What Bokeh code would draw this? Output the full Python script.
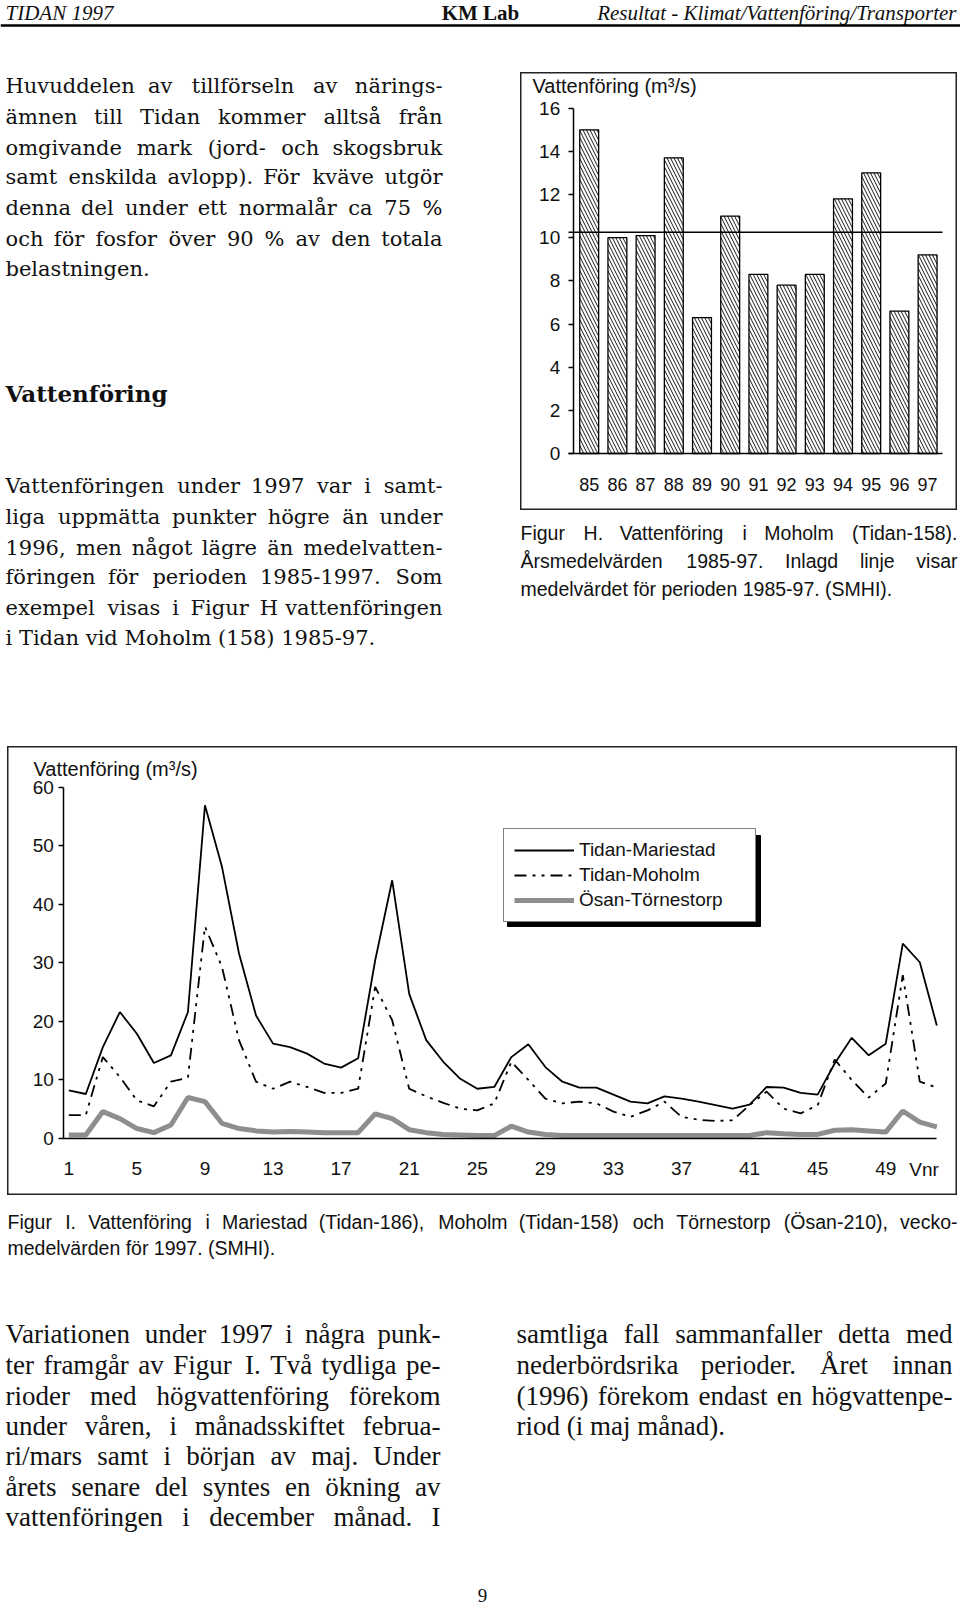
from bokeh.plotting import figure
from bokeh.models import Range1d, FixedTicker, Label, Spacer, Span
from bokeh.layouts import column, row
from bokeh.core.properties import value
from bokeh.embed import file_html
from bokeh.resources import INLINE

# ---------------- data ----------------
years = [85, 86, 87, 88, 89, 90, 91, 92, 93, 94, 95, 96, 97]
annual_flow = [15.0, 10.0, 10.1, 13.7, 6.3, 11.0, 8.3, 7.8, 8.3, 11.8, 13.0, 6.6, 9.2]
period_mean = 10.25
bar_yticks = [0, 2, 4, 6, 8, 10, 12, 14, 16]

weeks = list(range(1, 53))
week_ticks = [1, 5, 9, 13, 17, 21, 25, 29, 33, 37, 41, 45, 49]
line_yticks = [0, 10, 20, 30, 40, 50, 60]
mariestad = [8.2, 7.6, 15.6, 21.6, 17.9, 12.9, 14.2, 21.6, 56.9, 46.4, 31.6, 21.0, 16.2,
             15.6, 14.5, 12.8, 12.1, 13.7, 30.4, 44.1, 24.7, 16.8, 13.1, 10.2, 8.5, 8.8,
             13.9, 16.1, 12.2, 9.7, 8.7, 8.7, 7.5, 6.3, 6.0, 7.2, 6.8, 6.3, 5.7, 5.1,
             5.8, 8.8, 8.7, 7.8, 7.5, 12.8, 17.2, 14.2, 16.2, 33.3, 30.1, 19.3]
moholm = [4.0, 4.0, 13.9, 10.5, 6.5, 5.5, 9.7, 10.4, 36.2, 29.3, 16.8, 9.7, 8.5,
          9.7, 8.8, 7.8, 7.8, 8.5, 25.9, 20.2, 8.5, 7.2, 6.1, 5.1, 4.8, 6.0,
          13.1, 10.0, 6.8, 6.0, 6.3, 6.0, 4.6, 3.7, 4.8, 6.3, 3.7, 3.2, 3.0, 3.1,
          5.7, 8.0, 5.1, 4.3, 5.7, 13.5, 10.0, 7.0, 9.4, 27.9, 9.7, 8.7]
tornestorp = [0.6, 0.6, 4.6, 3.4, 1.7, 1.0, 2.3, 7.0, 6.3, 2.6, 1.7, 1.3, 1.1,
              1.2, 1.1, 1.0, 1.0, 1.0, 4.2, 3.4, 1.5, 1.0, 0.7, 0.6, 0.5, 0.5,
              2.1, 1.1, 0.7, 0.5, 0.5, 0.5, 0.5, 0.5, 0.5, 0.5, 0.5, 0.5, 0.5, 0.5,
              0.5, 1.0, 0.8, 0.7, 0.7, 1.4, 1.5, 1.3, 1.1, 4.7, 2.8, 2.0]
series_names = ["Tidan-Mariestad", "Tidan-Moholm", "Ösan-Törnestorp"]
axis_title = "Vattenföring (m³/s)"
week_axis_label = "Vnr"

# ---------------- page texts ----------------
header_left = "TIDAN 1997"
header_mid = "KM Lab"
header_right = "Resultat - Klimat/Vattenföring/Transporter"
para1 = ["Huvuddelen av tillförseln av närings-",
         "ämnen till Tidan kommer alltså från",
         "omgivande mark (jord- och skogsbruk",
         "samt enskilda avlopp). För kväve utgör",
         "denna del under ett normalår ca 75 %",
         "och för fosfor över 90 % av den totala",
         "belastningen."]
heading = "Vattenföring"
para2 = ["Vattenföringen under 1997 var i samt-",
         "liga uppmätta punkter högre än under",
         "1996, men något lägre än medelvatten-",
         "föringen för perioden 1985-1997. Som",
         "exempel visas i Figur H vattenföringen",
         "i Tidan vid Moholm (158) 1985-97."]
caption_h = ["Figur H. Vattenföring i Moholm (Tidan-158).",
             "Årsmedelvärden 1985-97. Inlagd linje visar",
             "medelvärdet för perioden 1985-97. (SMHI)."]
caption_i = ["Figur I. Vattenföring i Mariestad (Tidan-186), Moholm (Tidan-158) och Törnestorp (Ösan-210), vecko-",
             "medelvärden för 1997. (SMHI)."]
bottom_left = ["Variationen under 1997 i några punk-",
               "ter framgår av Figur I. Två tydliga pe-",
               "rioder med högvattenföring förekom",
               "under våren, i månadsskiftet februa-",
               "ri/mars samt i början av maj. Under",
               "årets senare del syntes en ökning av",
               "vattenföringen i december månad. I"]
bottom_right = ["samtliga fall sammanfaller detta med",
                "nederbördsrika perioder. Året innan",
                "(1996) förekom endast en högvattenpe-",
                "riod (i maj månad)."]
page_number = "9"

SANS = "Liberation Sans"
SERIF_WIDE = "DejaVu Serif"
SERIF = "Liberation Serif"
INK = "#111111"


# ---------------- text helpers ----------------
def cw(c, fam):
    if fam == "sans":
        if c in "ijl'|": return 0.222
        if c in " .,:;!/tfI": return 0.278
        if c in "r()-[]": return 0.333
        if c == "m": return 0.833
        if c == "w": return 0.722
        if c in "MÖOQGÅÄ": return 0.778
        if c == "W": return 0.944
        if c in "sckvxyzJ": return 0.5
        if c.isdigit(): return 0.556
        if c == "%": return 0.889
        if c.isupper(): return 0.667
        return 0.556
    if fam == "dejavu":
        if c in "il.,:;j'": return 0.32
        if c == " ": return 0.318
        if c == "t": return 0.40
        if c == "f": return 0.37
        if c == "r": return 0.478
        if c in "()": return 0.39
        if c == "-": return 0.338
        if c == "m": return 0.948
        if c == "w": return 0.856
        if c == "s": return 0.513
        if c in "vy": return 0.565
        if c in "kx": return 0.6
        if c == "c": return 0.56
        if c == "I": return 0.4
        if c == "M": return 0.87
        if c == "W": return 1.0
        if c.isdigit(): return 0.636
        if c == "%": return 0.95
        if c.isupper(): return 0.73
        return 0.61
    if c in " .,": return 0.25
    if c in "ijlt:;'/": return 0.278
    if c in "fr()-I": return 0.333
    if c == "m": return 0.778
    if c == "w": return 0.722
    if c == "s": return 0.389
    if c in "aecåäz": return 0.444
    if c.isdigit(): return 0.5
    if c == "T": return 0.611
    if c in "MÅ": return 0.8
    if c.isupper(): return 0.7
    return 0.5


def place(lines, ys, x0, x1, fam, size, justify_last=False):
    L = {"x": [], "y": [], "t": []}
    R = {"x": [], "y": [], "t": []}
    for i, (line, y) in enumerate(zip(lines, ys)):
        words = line.split(" ")
        last = (i == len(lines) - 1) and not justify_last
        if last or len(words) == 1:
            L["x"].append(x0); L["y"].append(y); L["t"].append(line)
            continue
        widths = [sum(cw(c, fam) for c in w) * size for w in words]
        gap = (x1 - x0 - sum(widths)) / (len(words) - 1)
        gap = max(gap, cw(" ", fam) * size)
        x = x0
        for w, wd in zip(words[:-1], widths[:-1]):
            L["x"].append(x); L["y"].append(y); L["t"].append(w)
            x += wd + gap
        R["x"].append(x1); R["y"].append(y); R["t"].append(words[-1])
    return L, R


def draw_text(p, parts, font, size, style="normal"):
    L, R = parts
    for data, align in ((L, "left"), (R, "right")):
        if data["t"]:
            p.text(x=data["x"], y=data["y"], text=data["t"],
                   text_font=value(font), text_font_size=value(f"{size}px"),
                   text_font_style=style, text_align=align,
                   text_baseline="middle", text_color=INK)


def text_fig(w, h):
    p = figure(width=w, height=h, x_range=Range1d(0, w), y_range=Range1d(h, 0),
               x_axis_type=None, y_axis_type=None, toolbar_location=None,
               output_backend="svg", min_border=0, title=None)
    p.outline_line_color = None
    p.background_fill_color = "white"
    p.border_fill_color = "white"
    return p


# ---------------- header (page y 0-60) ----------------
header = text_fig(960, 60)
for txt, x, align, style in ((header_left, 5, "left", "italic"),
                             (header_mid, 480, "center", "bold"),
                             (header_right, 956, "right", "italic")):
    header.text(x=[x], y=[0], text=[txt], text_font=value(SERIF),
                text_font_size=value("21px"), text_font_style=style, text_align=align,
                text_baseline="top", text_color=INK)
header.add_layout(Span(location=25, dimension="width", line_color="black", line_width=2.5))

# ---------------- left text column (page y 60-746) ----------------
left = text_fig(520, 686)
draw_text(left, place(para1, [25, 56, 87, 116, 147, 178, 208], 5, 442, "dejavu", 21),
          SERIF_WIDE, 21)
left.text(x=[5], y=[333], text=[heading], text_font=value(SERIF_WIDE),
          text_font_size=value("23px"), text_font_style="bold", text_align="left",
          text_baseline="middle", text_color=INK)
draw_text(left, place(para2, [425, 456, 487, 516, 547, 577], 5, 442, "dejavu", 21),
          SERIF_WIDE, 21)

# ---------------- bar chart (Figur H), box at page x 520-957, y 72-510 ----------------
BAR_W, BAR_H = 437, 438
BAR_PX_X = 28.2
BAR_PX_Y = (381 - 35.7) / 16
bar_x_start = years[0] - 68.7 / BAR_PX_X
bar_y_top = 381 / BAR_PX_Y


def bfx(px):
    return bar_x_start + px / BAR_PX_X


def bfy(py):
    return bar_y_top - py / BAR_PX_Y


bar = figure(width=BAR_W, height=BAR_H,
             x_range=Range1d(bar_x_start, bar_x_start + BAR_W / BAR_PX_X),
             y_range=Range1d(bar_y_top - BAR_H / BAR_PX_Y, bar_y_top),
             toolbar_location=None, output_backend="svg", min_border=0, title=None)
bar.xgrid.visible = False
bar.ygrid.visible = False
bar.outline_line_color = "#222222"
bar.outline_line_width = 2
bar.background_fill_color = "white"
bar.border_fill_color = "white"

bar.vbar(x=years, top=annual_flow, bottom=0, width=0.67, fill_color="white",
         line_color="black", line_width=1.3, hatch_pattern="\\", hatch_color="black",
         hatch_scale=7, hatch_weight=0.9)
bar.line(x=[bfx(48), bfx(422)], y=[period_mean, period_mean], line_color="black",
         line_width=1.5)

xa = bar.xaxis[0]
xa.fixed_location = 0
xa.bounds = (bfx(48), bfx(422))
xa.ticker = FixedTicker(ticks=years)
xa.major_tick_out = 0
xa.major_tick_in = 0
xa.minor_tick_out = 0
xa.minor_tick_in = 0
xa.major_label_standoff = 24
xa.major_label_text_font = SANS
xa.major_label_text_font_size = "18px"
xa.major_label_text_color = INK
xa.axis_line_width = 1.5
xa.axis_line_color = "black"

ya = bar.yaxis[0]
ya.fixed_location = bfx(52.7)
ya.bounds = (0, 16)
ya.ticker = FixedTicker(ticks=bar_yticks)
ya.major_tick_out = 5
ya.major_tick_in = 0
ya.minor_tick_out = 0
ya.minor_tick_in = 0
ya.major_tick_line_width = 1.5
ya.major_label_standoff = 8
ya.major_label_text_font = SANS
ya.major_label_text_font_size = "19px"
ya.major_label_text_color = INK
ya.axis_line_width = 1.5
ya.axis_line_color = "black"

bar.add_layout(Label(x=bfx(12), y=bfy(13), text=axis_title, text_font=SANS,
                     text_font_size="20px", text_align="left", text_baseline="middle",
                     text_color=INK))

cap_h = text_fig(440, 236)
draw_text(cap_h, place(caption_h, [22, 50, 78], 0, 437, "sans", 19.5), SANS, 19.5)

right_col = column(Spacer(width=440, height=12), bar, cap_h)
top_row = row(left, right_col)

# ---------------- line chart (Figur I), box at page x 7-957, y 746-1195 ----------------
LINE_W, LINE_H = 950, 449
LPX_X = 17.02
LPX_Y = (392 - 40.7) / 60
line_x_start = weeks[0] - 61.3 / LPX_X
line_y_top = 392 / LPX_Y


def lfx(px):
    return line_x_start + px / LPX_X


def lfy(py):
    return line_y_top - py / LPX_Y


lc = figure(width=LINE_W, height=LINE_H,
            x_range=Range1d(line_x_start, line_x_start + LINE_W / LPX_X),
            y_range=Range1d(line_y_top - LINE_H / LPX_Y, line_y_top),
            toolbar_location=None, output_backend="svg", min_border=0, title=None)
lc.xgrid.visible = False
lc.ygrid.visible = False
lc.outline_line_color = "#222222"
lc.outline_line_width = 2
lc.background_fill_color = "white"
lc.border_fill_color = "white"

# legend shadow (drawn under the legend box)
LEG_X, LEG_BOTTOM, LEG_W, LEG_H = 496, 176, 253, 91
lc.quad(left=[lfx(LEG_X + 4)], right=[lfx(LEG_X + LEG_W + 4)],
        top=[lfy(LEG_BOTTOM - LEG_H + 4)], bottom=[lfy(LEG_BOTTOM + 4)],
        fill_color="black", line_color="black")

lc.line(x=weeks, y=mariestad, line_color="black", line_width=1.8,
        legend_label=series_names[0])
lc.line(x=weeks, y=moholm, line_color="black", line_width=1.8, line_dash="12 6 3 6 3 6",
        legend_label=series_names[1])
lc.line(x=weeks, y=tornestorp, line_color="#8e8e8e", line_width=5,
        legend_label=series_names[2])

lx = lc.xaxis[0]
lx.fixed_location = 0
lx.bounds = (lfx(56.3), weeks[-1])
lx.ticker = FixedTicker(ticks=week_ticks)
lx.major_tick_out = 0
lx.major_tick_in = 0
lx.minor_tick_out = 0
lx.minor_tick_in = 0
lx.major_label_standoff = 23
lx.major_label_text_font = SANS
lx.major_label_text_font_size = "19px"
lx.major_label_text_color = INK
lx.axis_line_width = 1.5
lx.axis_line_color = "black"

ly = lc.yaxis[0]
ly.fixed_location = lfx(56.3)
ly.bounds = (0, 60)
ly.ticker = FixedTicker(ticks=line_yticks)
ly.major_tick_out = 5
ly.major_tick_in = 0
ly.minor_tick_out = 0
ly.minor_tick_in = 0
ly.major_tick_line_width = 1.5
ly.major_label_standoff = 5
ly.major_label_text_font = SANS
ly.major_label_text_font_size = "19px"
ly.major_label_text_color = INK
ly.axis_line_width = 1.5
ly.axis_line_color = "black"

lc.add_layout(Label(x=lfx(26), y=lfy(22), text=axis_title, text_font=SANS,
                    text_font_size="20px", text_align="left", text_baseline="middle",
                    text_color=INK))
lc.add_layout(Label(x=51.25, y=0, y_offset=-20, text=week_axis_label, text_font=SANS,
                    text_font_size="19px", text_align="center", text_baseline="top",
                    text_color=INK))

lg = lc.legend[0]
lg.location = (LEG_X, LINE_H - LEG_BOTTOM)
lg.border_line_color = "black"
lg.border_line_width = 1.5
lg.background_fill_color = "white"
lg.background_fill_alpha = 1.0
lg.padding = 10
lg.spacing = 3
lg.margin = 0
lg.glyph_width = 60
lg.glyph_height = 20
lg.label_height = 20
lg.label_width = 166
lg.label_standoff = 5
lg.label_text_font = SANS
lg.label_text_font_size = "19px"
lg.label_text_color = INK

line_row = row(Spacer(width=7, height=LINE_H), lc)

# ---------------- bottom text (page y 1195-1609) ----------------
bottom = text_fig(960, 414)
draw_text(bottom, place(caption_i, [26, 52], 7, 957, "sans", 19.5), SANS, 19.5)
ys_b = [138, 169, 200, 230, 260, 291, 321]
draw_text(bottom, place(bottom_left, ys_b, 5, 440, "times", 27, justify_last=True), SERIF, 27)
draw_text(bottom, place(bottom_right, ys_b[:4], 516, 952, "times", 27), SERIF, 27)
bottom.text(x=[482], y=[400], text=[page_number], text_font=value(SERIF),
            text_font_size=value("19px"), text_align="center", text_baseline="middle",
            text_color=INK)

page = column(header, top_row, line_row, bottom)
open("out.html", "w").write(file_html(page, INLINE))
